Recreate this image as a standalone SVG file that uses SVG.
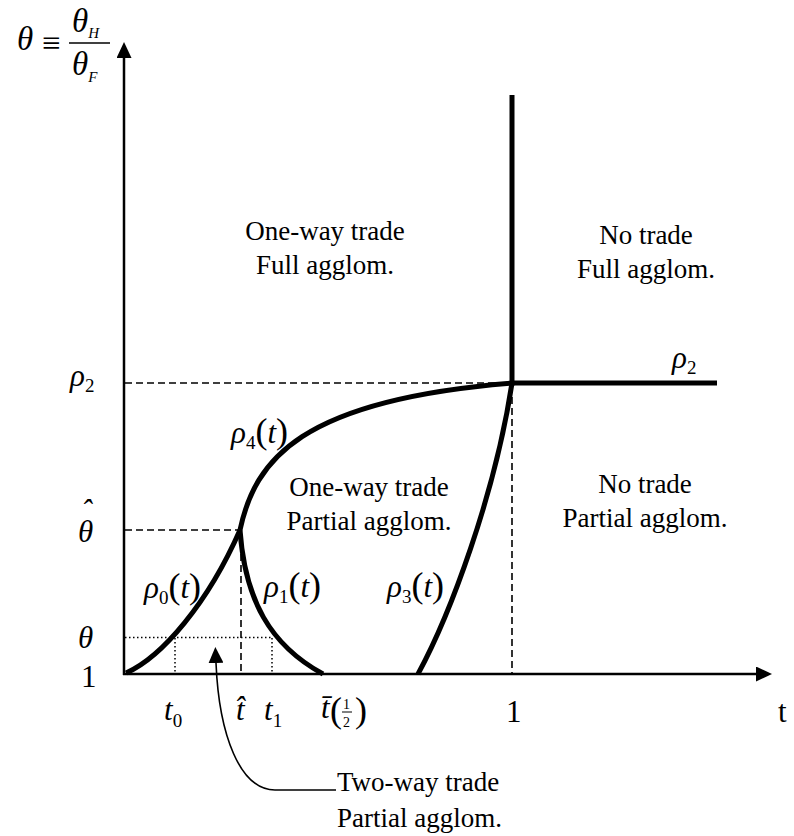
<svg xmlns="http://www.w3.org/2000/svg" width="794" height="836" viewBox="0 0 794 836">
<style>
text{font-family:"Liberation Serif","Times New Roman",serif;fill:#000}
.lab{font-size:27px}
.m{font-size:31px}
.big{font-size:33px}
.i{font-style:italic}
.s{font-size:19px}
.ss{font-size:15px}
.p{font-size:36px}
.axis{stroke:#000;stroke-width:2.5;fill:none}
.thick{stroke:#000;stroke-width:5;fill:none}
.dash{stroke:#000;stroke-width:1.6;stroke-dasharray:7,4;fill:none}
.dot{stroke:#000;stroke-width:1.5;stroke-dasharray:1.5,2.5;fill:none}
.thin{stroke:#000;stroke-width:1.6;fill:none}
</style>
<defs>
<marker id="ah" viewBox="0 0 16 15" refX="0" refY="7.5" markerWidth="16" markerHeight="15" markerUnits="userSpaceOnUse" orient="auto-start-reverse">
<path d="M0,0 L16,7.5 L0,15 z" fill="#000"/>
</marker>
</defs>

<g id="connectors">
<line id="y-axis" class="axis" x1="124" y1="675" x2="124" y2="58" marker-end="url(#ah)"/>
<line id="x-axis" class="axis" x1="123" y1="674" x2="756" y2="674" marker-end="url(#ah)"/>
<line class="dash" x1="125" y1="383" x2="512" y2="383"/>
<line class="dash" x1="125" y1="530" x2="240" y2="530"/>
<line class="dash" x1="241" y1="532" x2="241" y2="673"/>
<line class="dash" x1="512" y1="386" x2="512" y2="673"/>
<line class="dot" x1="125" y1="637.5" x2="272" y2="637.5"/>
<line class="dot" x1="175" y1="638" x2="175" y2="673"/>
<line class="dot" x1="272" y1="638" x2="272" y2="673"/>
<path id="rho0" class="thick" d="M126,673 C162,657 208,603 240,530"/>
<path id="rho1" class="thick" d="M240,530 C245,600 270,645 323,674"/>
<path id="rho4" class="thick" d="M240,530 C255,460 300,400 512,383"/>
<path id="rho3" class="thick" d="M418,674 C450,615 495,495 512,383"/>
<line class="thick" x1="512" y1="95" x2="512" y2="385.5"/>
<line class="thick" x1="510" y1="383" x2="717" y2="383"/>
<path id="callout" class="thin" d="M216,663 C219,735 240,790 275,790 L336,790" marker-start="url(#ah)"/>
</g>

<g id="ylabel">
<text class="big i" x="17" y="50">θ</text>
<text class="big" x="42" y="54">≡</text>
<line class="thin" x1="69" y1="43" x2="110" y2="43"/>
<text class="big" x="72" y="32"><tspan class="i">θ</tspan><tspan class="i ss" dy="6">H</tspan></text>
<text class="big" x="72" y="75"><tspan class="i">θ</tspan><tspan class="i ss" dy="7">F</tspan></text>
</g>

<g id="region-oneway-full">
<text class="lab" x="325" y="240" text-anchor="middle">One-way trade</text>
<text class="lab" x="325" y="274" text-anchor="middle">Full agglom.</text>
</g>
<g id="region-notrade-full">
<text class="lab" x="646" y="244" text-anchor="middle">No trade</text>
<text class="lab" x="646" y="278" text-anchor="middle">Full agglom.</text>
</g>
<g id="region-oneway-partial">
<text class="lab" x="369" y="496" text-anchor="middle">One-way trade</text>
<text class="lab" x="369" y="530" text-anchor="middle">Partial agglom.</text>
</g>
<g id="region-notrade-partial">
<text class="lab" x="645" y="493" text-anchor="middle">No trade</text>
<text class="lab" x="645" y="527" text-anchor="middle">Partial agglom.</text>
</g>
<g id="region-twoway-partial">
<text class="lab" x="337" y="791">Two-way trade</text>
<text class="lab" x="337" y="827">Partial agglom.</text>
</g>

<g id="curve-labels">
<text class="m" x="231" y="443"><tspan class="i">ρ</tspan><tspan class="s" dy="6">4</tspan><tspan class="p" dy="-6">(</tspan><tspan class="i">t</tspan><tspan class="p">)</tspan></text>
<text class="m" x="144" y="598"><tspan class="i">ρ</tspan><tspan class="s" dy="6">0</tspan><tspan class="p" dy="-6">(</tspan><tspan class="i">t</tspan><tspan class="p">)</tspan></text>
<text class="m" x="264" y="597"><tspan class="i">ρ</tspan><tspan class="s" dy="6">1</tspan><tspan class="p" dy="-6">(</tspan><tspan class="i">t</tspan><tspan class="p">)</tspan></text>
<text class="m" x="387" y="597"><tspan class="i">ρ</tspan><tspan class="s" dy="6">3</tspan><tspan class="p" dy="-6">(</tspan><tspan class="i">t</tspan><tspan class="p">)</tspan></text>
<text class="m" x="672" y="368"><tspan class="i">ρ</tspan><tspan class="s" dy="6">2</tspan></text>
</g>

<g id="y-ticks">
<text class="m" x="70" y="386"><tspan class="i">ρ</tspan><tspan class="s" dy="6">2</tspan></text>
<text class="m i" x="78" y="542">θ<tspan dx="-12" dy="-21">ˆ</tspan></text>
<text class="m i" x="78" y="648">θ</text>
<text class="m" x="81" y="687">1</text>
</g>

<g id="x-ticks">
<text class="m" x="164" y="720"><tspan class="i">t</tspan><tspan class="s" dy="7">0</tspan></text>
<text class="m i" x="236" y="720">t̂</text>
<text class="m" x="264" y="720"><tspan class="i">t</tspan><tspan class="s" dy="7">1</tspan></text>
<text class="m i" x="321" y="718">t̄</text>
<text x="330" y="722" font-size="36">(</text>
<text x="343" y="709" font-size="14">1</text>
<line x1="342" y1="712" x2="352" y2="712" stroke="#000" stroke-width="1"/>
<text x="343" y="727" font-size="14">2</text>
<text x="355" y="722" font-size="36">)</text>
<text class="m" x="506" y="722">1</text>
<text class="m" x="778" y="722">t</text>
</g>
</svg>
